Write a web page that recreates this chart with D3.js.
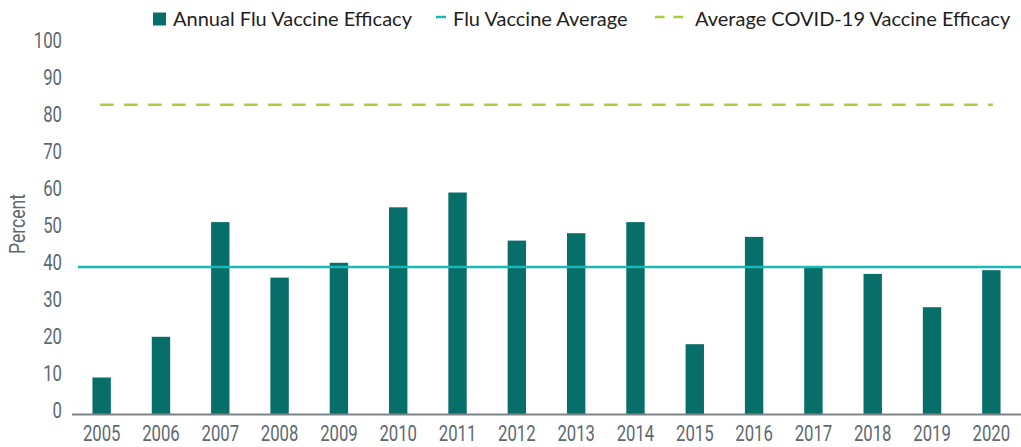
<!DOCTYPE html>
<html>
<head>
<meta charset="utf-8">
<script src="https://cdn.jsdelivr.net/npm/d3@7"></script>
<style>
  html, body { margin: 0; padding: 0; background: #fff; }
  svg { display: block; }
</style>
</head>
<body>
<svg id="chart" width="1021" height="447"></svg>
<script>
const years = ["2005","2006","2007","2008","2009","2010","2011","2012","2013","2014","2015","2016","2017","2018","2019","2020"];
const efficacy = [10, 21, 52, 37, 41, 56, 60, 47, 49, 52, 19, 48, 40, 38, 29, 39];
const fluAverage = 39.875;
const covidAverage = 83.7;
const yTicks = [0, 10, 20, 30, 40, 50, 60, 70, 80, 90, 100];
const legendLabels = ["Annual Flu Vaccine Efficacy", "Flu Vaccine Average", "Average COVID-19 Vaccine Efficacy"];

const colBar = "#086e6a", colAvg = "#1bb8b5", colCovid = "#a5cf3a";
const tickFont = "Roboto, sans-serif";
const tickScale = "scale(0.76,1)";
const legFont = "Lato, 'Liberation Sans', sans-serif";

const svg = d3.select("#chart");
const x = d3.scaleBand().domain(years).range([72, 1021]).paddingInner(0.69).paddingOuter(0.345);
const y = d3.scaleLinear().domain([0, 100]).range([414.5, 44.5]);

// bars
svg.append("g").selectAll("rect").data(efficacy).join("rect")
  .attr("x", (d, i) => x(years[i]))
  .attr("y", d => y(d))
  .attr("width", x.bandwidth())
  .attr("height", d => y(0) - y(d))
  .attr("fill", colBar);

// y axis labels
const yAxis = d3.axisLeft(y).tickValues(yTicks).tickSize(0).tickPadding(0).tickFormat(d3.format("d"));
const gy = svg.append("g").attr("transform", "translate(62,0)").call(yAxis);
gy.select(".domain").remove();
gy.selectAll("text")
  .attr("font-family", tickFont).attr("font-size", 22).attr("fill", "#5e6970")
  .attr("x", 0).attr("dy", 0).attr("y", 3)
  .attr("transform", tickScale);

// x axis
const xAxis = d3.axisBottom(x).tickSize(0).tickPadding(0);
const gx = svg.append("g").attr("transform", `translate(0,${y(0)})`).call(xAxis);
gx.select(".domain").remove();
gx.selectAll("text")
  .attr("font-family", tickFont).attr("font-size", 22).attr("fill", "#5e6970")
  .attr("y", 27).attr("dy", 0)
  .attr("transform", tickScale);

// baseline
svg.append("line")
  .attr("x1", x.range()[0]).attr("x2", x.range()[1])
  .attr("y1", y(0)).attr("y2", y(0))
  .attr("stroke", "#7d8488").attr("stroke-width", 2);

// flu average line
svg.append("line")
  .attr("x1", x.range()[0] + 6).attr("x2", x.range()[1])
  .attr("y1", y(fluAverage)).attr("y2", y(fluAverage))
  .attr("stroke", colAvg).attr("stroke-width", 2.5);

// covid average dashed line
svg.append("line")
  .attr("x1", x(years[0]) + x.bandwidth() / 2 - 1.5)
  .attr("x2", x(years[years.length - 1]) + x.bandwidth() / 2 + 1.5)
  .attr("y1", y(covidAverage)).attr("y2", y(covidAverage))
  .attr("stroke", colCovid).attr("stroke-width", 2.5)
  .attr("stroke-dasharray", "13.5 10.5");

// y axis title
svg.append("text")
  .attr("transform", "translate(25,224) rotate(-90) scale(0.8,1)")
  .attr("text-anchor", "middle")
  .attr("font-family", tickFont).attr("font-size", 22).attr("fill", "#5e6970")
  .text("Percent");

// legend
const leg = svg.append("g").attr("font-family", legFont).attr("font-size", 20).attr("fill", "#1e1e1e");
leg.append("rect").attr("x", 153).attr("y", 12.5).attr("width", 13).attr("height", 13).attr("fill", colBar);
leg.append("text").attr("x", 173).attr("y", 26).text(legendLabels[0]);
leg.append("line").attr("x1", 436).attr("x2", 446).attr("y1", 17).attr("y2", 17)
  .attr("stroke", colAvg).attr("stroke-width", 2.5);
leg.append("text").attr("x", 453).attr("y", 26).text(legendLabels[1]);
leg.append("line").attr("x1", 655).attr("x2", 684).attr("y1", 17).attr("y2", 17)
  .attr("stroke", colCovid).attr("stroke-width", 2.5).attr("stroke-dasharray", "9.5 9");
leg.append("text").attr("x", 695).attr("y", 26).text(legendLabels[2]);
</script>
</body>
</html>
